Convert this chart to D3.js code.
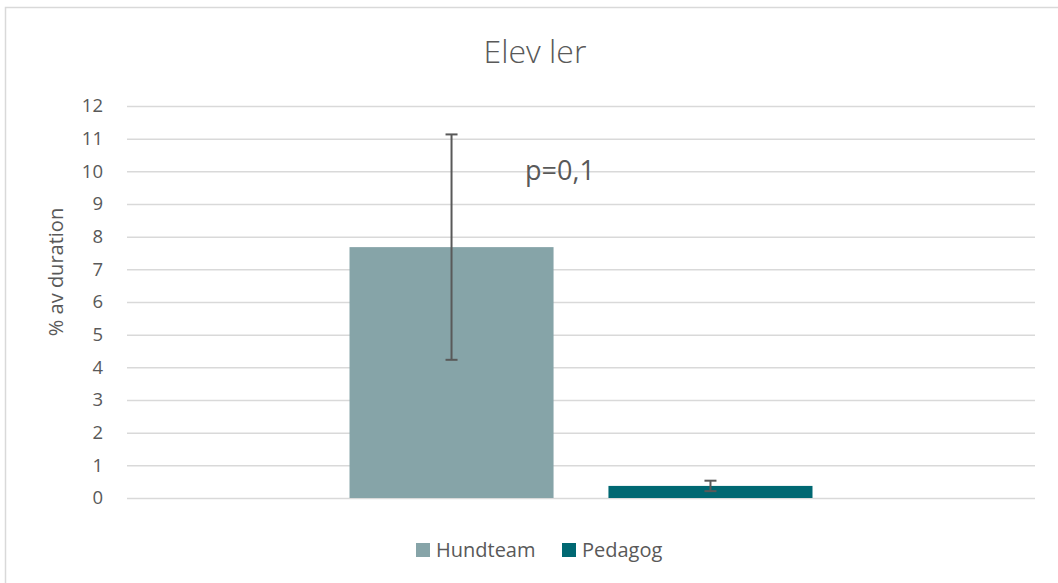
<!DOCTYPE html>
<html>
<head>
<meta charset="utf-8">
<script src="https://cdn.jsdelivr.net/npm/d3@7"></script>
<style>
  html, body { margin: 0; padding: 0; background: #fff; }
  svg { display: block; font-family: "Open Sans", "Liberation Sans", sans-serif; }
</style>
</head>
<body>
<svg id="chart" width="1058" height="583"></svg>
<script>
// ---- data ----
const categories = [""];
const seriesNames = ["Hundteam", "Pedagog"];
const seriesValues = [7.68, 0.37];
const seriesErrors = [3.45, 0.16];
const seriesColors = ["#86A4A8", "#006872"];
const yTicks = [0, 1, 2, 3, 4, 5, 6, 7, 8, 9, 10, 11, 12];
const chartTitle = "Elev ler";
const yAxisTitle = "% av duration";
const annotation = "p=0,1";

const svg = d3.select("#chart");
const textColor = "#595959";

// outer border
svg.append("rect")
  .attr("x", 5.5).attr("y", 7.5)
  .attr("width", 1070).attr("height", 600)
  .attr("fill", "none").attr("stroke", "#d9d9d9").attr("stroke-width", 1.5);

const plot = { left: 127, right: 1035, top: 106, bottom: 498 };

const y = d3.scaleLinear().domain([0, 12]).range([plot.bottom, plot.top]);
const x0 = d3.scaleBand().domain(categories).range([plot.left, plot.right])
  .paddingInner(0).paddingOuter(0.4806);
const x1 = d3.scaleBand().domain(seriesNames).range([0, x0.bandwidth()])
  .paddingInner(0.212).paddingOuter(0);

// gridlines
const grid = svg.append("g")
  .attr("transform", `translate(${plot.left},0)`)
  .call(d3.axisLeft(y).tickValues(yTicks).tickSize(-(plot.right - plot.left)).tickFormat(""));
grid.select(".domain").remove();
grid.selectAll(".tick line").attr("stroke", "#d9d9d9").attr("stroke-width", 1.5);

// y axis labels
const yAxis = svg.append("g")
  .attr("transform", `translate(${plot.left},0)`)
  .call(d3.axisLeft(y).tickValues(yTicks).tickSize(0).tickPadding(24).tickFormat(d3.format("d")));
yAxis.select(".domain").remove();
yAxis.selectAll("text")
  .attr("fill", textColor)
  .style("font-size", "18.5px")
  .style("font-family", "'Open Sans', sans-serif");

// bars
const data = seriesNames.map((s, i) => ({ series: s, value: seriesValues[i], err: seriesErrors[i], color: seriesColors[i], cat: categories[0] }));
const g = svg.append("g");
g.selectAll("rect.bar").data(data).enter().append("rect")
  .attr("class", "bar")
  .attr("x", d => x0(d.cat) + x1(d.series))
  .attr("width", x1.bandwidth())
  .attr("y", d => y(d.value))
  .attr("height", d => y(0) - y(d.value))
  .attr("fill", d => d.color);

// error bars
const eb = g.selectAll("g.err").data(data).enter().append("g").attr("class", "err");
const cx = d => x0(d.cat) + x1(d.series) + x1.bandwidth() / 2;
eb.append("line")
  .attr("x1", cx).attr("x2", cx)
  .attr("y1", d => y(d.value + d.err)).attr("y2", d => y(d.value - d.err))
  .attr("stroke", textColor).attr("stroke-width", 2);
eb.append("line")
  .attr("x1", d => cx(d) - 6).attr("x2", d => cx(d) + 6)
  .attr("y1", d => y(d.value + d.err)).attr("y2", d => y(d.value + d.err))
  .attr("stroke", textColor).attr("stroke-width", 2);
eb.append("line")
  .attr("x1", d => cx(d) - 6).attr("x2", d => cx(d) + 6)
  .attr("y1", d => y(d.value - d.err)).attr("y2", d => y(d.value - d.err))
  .attr("stroke", textColor).attr("stroke-width", 2);

// annotation
svg.append("text")
  .attr("x", 560).attr("y", y(9.73))
  .attr("text-anchor", "middle")
  .attr("fill", textColor)
  .style("font-size", "27px")
  .text(annotation);

// title
svg.append("text")
  .attr("x", 535).attr("y", 63)
  .attr("text-anchor", "middle")
  .attr("fill", textColor)
  .style("font-size", "32px")
  .style("font-weight", 300)
  .text(chartTitle);

// y axis title
svg.append("text")
  .attr("transform", `translate(63,${272}) rotate(-90)`)
  .attr("text-anchor", "middle")
  .attr("fill", textColor)
  .style("font-size", "20px")
  .text(yAxisTitle);

// legend
const legendItems = [
  { x: 416, name: seriesNames[0], color: seriesColors[0] },
  { x: 562, name: seriesNames[1], color: seriesColors[1] }
];
const lg = svg.append("g");
const li = lg.selectAll("g").data(legendItems).enter().append("g")
  .attr("transform", d => `translate(${d.x},550)`);
li.append("rect").attr("x", 0).attr("y", -7).attr("width", 14).attr("height", 14).attr("fill", d => d.color);
li.append("text").attr("x", 20).attr("y", 0).attr("dy", "0.35em")
  .attr("fill", textColor).style("font-size", "20px").text(d => d.name);
</script>
</body>
</html>
